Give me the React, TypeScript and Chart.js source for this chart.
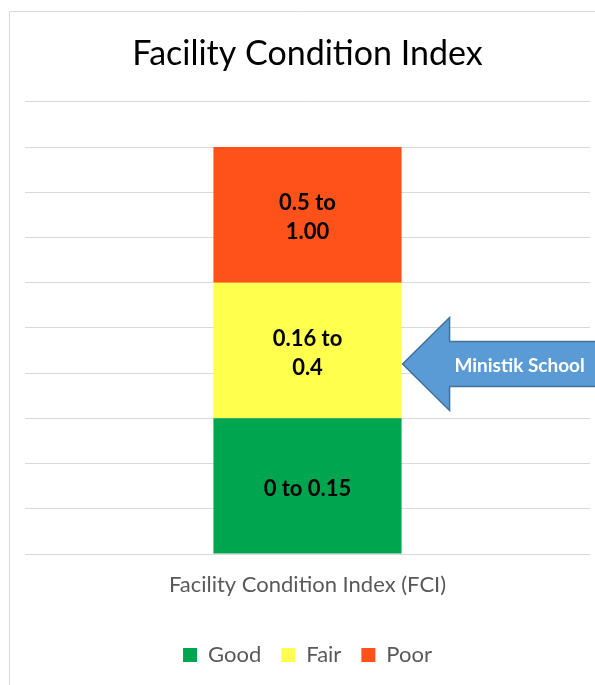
import React, { useEffect, useRef } from "react";
import { Chart, registerables } from "chart.js";
Chart.register(...registerables);

const categories = ["Facility Condition Index (FCI)"];
const seriesNames = ["Good", "Fair", "Poor"];
const goodValues = [3];
const fairValues = [3];
const poorValues = [3];
const seriesColors = ["#00A550", "#FFFF4D", "#FF521A"];
const segmentLabels = [["0 to 0.15"], ["0.16 to", "0.4"], ["0.5 to", "1.00"]];
const calloutText = "Ministik School";
const calloutValue = 4.2;
const yMin = 0;
const yMax = 10;
const yStep = 1;

const FONT = "Lato, 'Open Sans', sans-serif";

const framePlugin = {
  id: "frame",
  beforeDraw(chart: any) {
    const ctx = chart.ctx;
    ctx.save();
    ctx.strokeStyle = "#d9d9d9";
    ctx.lineWidth = 1;
    ctx.beginPath();
    ctx.moveTo(9.5, chart.height + 5);
    ctx.lineTo(9.5, 11.5);
    ctx.lineTo(chart.width + 5, 11.5);
    ctx.stroke();
    ctx.restore();
  },
};

const labelPlugin = {
  id: "segLabels",
  afterDatasetsDraw(chart: any) {
    const ctx = chart.ctx;
    ctx.save();
    ctx.fillStyle = "#000";
    ctx.font = `bold 22px ${FONT}`;
    ctx.textAlign = "center";
    ctx.textBaseline = "middle";
    chart.data.datasets.forEach((ds: any, i: number) => {
      const meta = chart.getDatasetMeta(i);
      meta.data.forEach((el: any) => {
        const cy = (el.y + el.base) / 2 + 3;
        const lines = segmentLabels[i];
        const lh = 29;
        const start = cy - ((lines.length - 1) * lh) / 2;
        lines.forEach((t, k) => ctx.fillText(t, el.x, start + k * lh));
      });
    });
    ctx.restore();
  },
};

const arrowPlugin = {
  id: "callout",
  afterDatasetsDraw(chart: any) {
    const ctx = chart.ctx;
    const el = chart.getDatasetMeta(1).data[0];
    if (!el) return;
    const tipX = el.x + el.width / 2 + 1;
    const tipY = chart.scales.y.getPixelForValue(calloutValue);
    const headLen = 47;
    const headH = 46.5;
    const shaftH = 22.5;
    const endX = chart.width + 10;
    ctx.save();
    ctx.beginPath();
    ctx.moveTo(tipX, tipY);
    ctx.lineTo(tipX + headLen, tipY - headH);
    ctx.lineTo(tipX + headLen, tipY - shaftH);
    ctx.lineTo(endX, tipY - shaftH);
    ctx.lineTo(endX, tipY + shaftH);
    ctx.lineTo(tipX + headLen, tipY + shaftH);
    ctx.lineTo(tipX + headLen, tipY + headH);
    ctx.closePath();
    ctx.fillStyle = "#5B9BD5";
    ctx.fill();
    ctx.strokeStyle = "#41719C";
    ctx.lineWidth = 1.5;
    ctx.stroke();
    ctx.fillStyle = "#ffffff";
    ctx.font = `bold 19px ${FONT}`;
    ctx.textAlign = "center";
    ctx.textBaseline = "middle";
    ctx.fillText(calloutText, tipX + 117, tipY + 2);
    ctx.restore();
  },
};

export default function App() {
  const ref = useRef<HTMLCanvasElement>(null);
  useEffect(() => {
    if (!ref.current) return;
    const values = [goodValues, fairValues, poorValues];
    const chart = new Chart(ref.current, {
      type: "bar",
      data: {
        labels: categories,
        datasets: seriesNames.map((name, i) => ({
          label: name,
          data: values[i],
          backgroundColor: seriesColors[i],
          borderWidth: 0,
          barPercentage: 0.333,
          categoryPercentage: 1,
        })),
      },
      options: {
        animation: false,
        responsive: false,
        maintainAspectRatio: false,
        layout: { padding: { left: 25, right: 5, top: 0, bottom: 9 } },
        plugins: {
          title: {
            display: true,
            text: "Facility Condition Index",
            color: "#000",
            font: { family: FONT, size: 34, weight: "normal", lineHeight: 1.2 },
            padding: { top: 34, bottom: 27 },
          },
          legend: {
            display: true,
            position: "bottom",
            labels: {
              color: "#595959",
              font: { family: FONT, size: 22 },
              boxWidth: 14,
              boxHeight: 14,
              padding: 20,
            },
          },
          tooltip: { enabled: false },
        },
        scales: {
          x: {
            stacked: true,
            grid: { display: false, drawTicks: false },
            border: { display: false },
            ticks: { color: "#595959", font: { family: FONT, size: 22 }, padding: 18 },
            afterFit: (s: any) => {
              s.height = 70;
            },
          },
          y: {
            stacked: true,
            min: yMin,
            max: yMax,
            ticks: { display: false, stepSize: yStep },
            grid: { color: "#d9d9d9", lineWidth: 1, drawTicks: false },
            border: { display: false },
            afterFit: (s: any) => {
              s.width = 0;
            },
          },
        },
      },
      plugins: [framePlugin, labelPlugin, arrowPlugin],
    });
    return () => chart.destroy();
  }, []);
  return (
    <div style={{ position: "absolute", left: 0, top: 0, width: 595, height: 685, background: "#fff" }}>
      <canvas ref={ref} width={595} height={685} style={{ display: "block" }} />
    </div>
  );
}
